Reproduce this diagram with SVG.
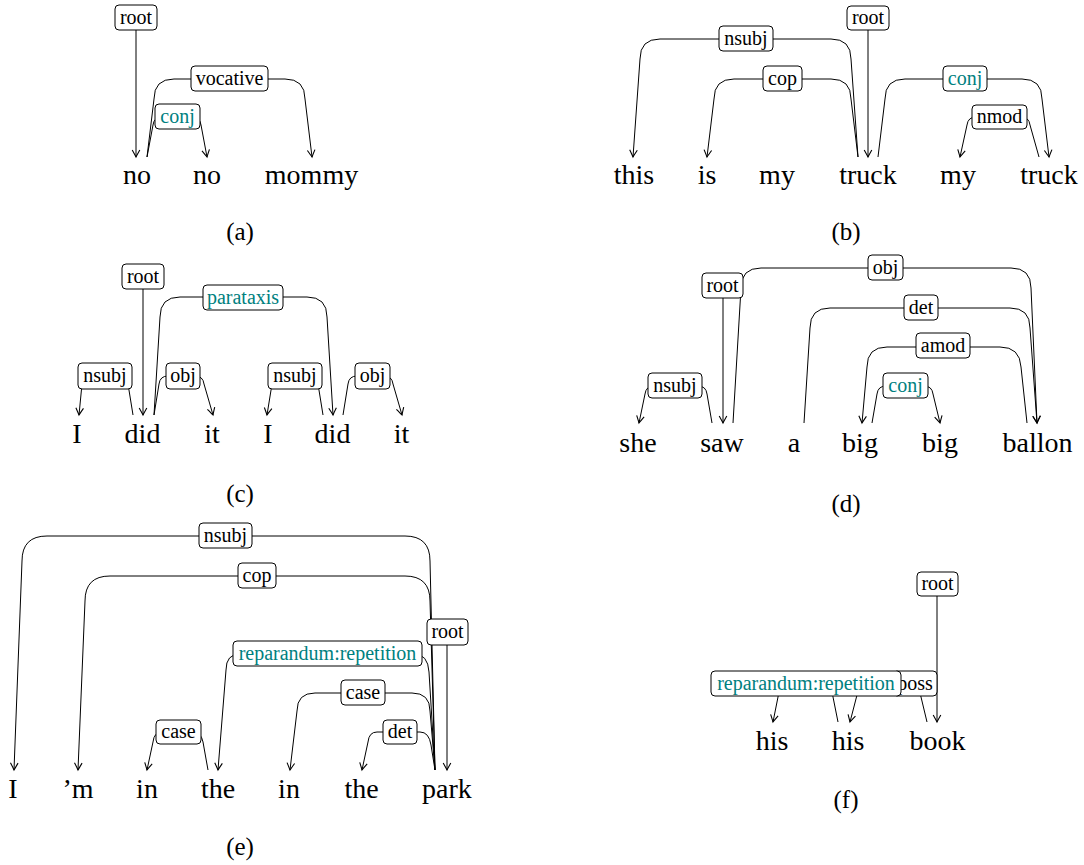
<svg xmlns="http://www.w3.org/2000/svg" width="1084" height="865" viewBox="0 0 1084 865" font-family="Liberation Serif, Times New Roman, serif">
<style>
  .w { font-size: 28px; fill: #000; text-anchor: middle; }
  .cap { font-size: 25px; fill: #000; text-anchor: middle; }
  .lb { font-size: 20px; fill: #000; text-anchor: middle; }
  .t { fill: #008080; }
  .box { fill: #fff; stroke: #000; stroke-width: 1; }
  .e { fill: none; stroke: #000; stroke-width: 1; marker-end: url(#arr); }
</style>
<defs>
  <marker id="arr" markerUnits="userSpaceOnUse" markerWidth="14" markerHeight="14" viewBox="-10 -7 14 14" refX="0" refY="0" orient="auto" overflow="visible">
    <path d="M-7,-3.8 Q-2,-1 0,0 Q-2,1 -7,3.8" fill="none" stroke="#000" stroke-width="1.1"/>
  </marker>
</defs>
<rect width="1084" height="865" fill="#fff"/>

<g id="connectors">
  <!-- (a) -->
  <path class="e" d="M136,30 L136,157"/>
  <path class="e" d="M147,157 L154,99 Q154,79 174,79 L285,79 Q305,79 305,99 L312,157"/>
  <path class="e" d="M147,157 L153,125 Q154,117 162,117 L192,117 Q200,117 201,125 L207,157"/>
  <!-- (b) -->
  <path class="e" d="M868,30 L868,157"/>
  <path class="e" d="M858,157 L851,59 Q851,39 831,39 L660,39 Q640,39 640,59 L633,157"/>
  <path class="e" d="M858,157 L851,99 Q851,79 831,79 L734,79 Q714,79 714,99 L707,157"/>
  <path class="e" d="M878,157 L885,99 Q885,79 905,79 L1022,79 Q1042,79 1042,99 L1049,157"/>
  <path class="e" d="M1039,157 L1030,125 Q1029,117 1021,117 L976,117 Q968,117 967,125 L960,157"/>
  <!-- (c) -->
  <path class="e" d="M143,289 L143,415"/>
  <path class="e" d="M154,415 L160,317 Q160,297 180,297 L307,297 Q327,297 327,317 L333,415"/>
  <path class="e" d="M133,415 L128,384 Q127,376 119,376 L91,376 Q83,376 82,384 L79,415"/>
  <path class="e" d="M154,415 L159,384 Q160,376 168,376 L195,376 Q203,376 204,384 L213,415"/>
  <path class="e" d="M323,415 L318,384 Q317,376 309,376 L281,376 Q273,376 272,384 L267,415"/>
  <path class="e" d="M343,415 L348,384 Q349,376 357,376 L384,376 Q392,376 393,384 L402,415"/>
  <!-- (d) -->
  <path class="e" d="M723,298 L723,423"/>
  <path class="e" d="M733,423 L741,288 Q741,268 761,268 L1011,268 Q1031,268 1031,288 L1037,423"/>
  <path class="e" d="M804,423 L810,328 Q810,308 830,308 L1010,308 Q1030,308 1030,328 L1037,423"/>
  <path class="e" d="M1027,423 L1021,367 Q1020,347 1000,347 L887,347 Q867,347 867,367 L862,423"/>
  <path class="e" d="M872,423 L877,394 Q878,386 886,386 L924,386 Q932,386 933,394 L940,423"/>
  <path class="e" d="M712,423 L707,394 Q706,386 698,386 L654,386 Q646,386 645,394 L639,423"/>
  <!-- (e) -->
  <path class="e" d="M447,645 L447,770"/>
  <path class="e" d="M435,770 L430,561 Q430,536 405,536 L47,536 Q22,536 22,561 L14,770"/>
  <path class="e" d="M435,770 L430,601 Q430,576 405,576 L110,576 Q85,576 85,601 L78,770"/>
  <path class="e" d="M435,770 L429,672 Q428,654 414,654 L240,654 Q226,654 226,670 L218,770"/>
  <path class="e" d="M435,770 L430,711 Q430,693 412,693 L315,693 Q297,693 297,711 L290,770"/>
  <path class="e" d="M435,770 L431,745 Q429,732 420,732 L377,732 Q369,732 368,742 L362,770"/>
  <path class="e" d="M208,770 L203,742 Q201,732 193,732 L162,732 Q154,732 153,742 L147,770"/>
  <!-- (f) -->
  <path class="e" d="M937,596 L937,722"/>
  <path class="e" d="M927,722 L921,697 Q919,683 911,683 L866,683 Q858,683 857,695 L850,722"/>
  <path class="e" d="M838,722 L833,697 Q832,683 824,683 L787,683 Q779,683 778,697 L773,722"/>
</g>

<!-- panel (a) -->
<g id="a-words">
  <text class="w" x="137" y="184">no</text>
  <text class="w" x="207" y="184">no</text>
  <text class="w" x="311.5" y="184">mommy</text>
  <text class="cap" x="240" y="240">(a)</text>
</g>
<g id="a-root"><rect class="box" x="115" y="5" width="42" height="25" rx="4"/><text class="lb" x="136" y="23.5">root</text></g>
<g id="a-vocative"><rect class="box" x="191" y="66" width="77" height="25" rx="4"/><text class="lb" x="229.5" y="84.5">vocative</text></g>
<g id="a-conj"><rect class="box" x="155" y="104" width="45" height="25" rx="4"/><text class="lb t" x="177.5" y="122.5">conj</text></g>

<!-- panel (b) -->
<g id="b-words">
  <text class="w" x="634" y="184">this</text>
  <text class="w" x="707" y="184">is</text>
  <text class="w" x="777" y="184">my</text>
  <text class="w" x="868" y="184">truck</text>
  <text class="w" x="958" y="184">my</text>
  <text class="w" x="1049" y="184">truck</text>
  <text class="cap" x="846" y="240">(b)</text>
</g>
<g id="b-root"><rect class="box" x="847" y="6" width="42" height="24" rx="4"/><text class="lb" x="868" y="24">root</text></g>
<g id="b-nsubj"><rect class="box" x="719" y="26" width="54" height="25" rx="4"/><text class="lb" x="746" y="44.5">nsubj</text></g>
<g id="b-cop"><rect class="box" x="763" y="66" width="39" height="25" rx="4"/><text class="lb" x="782.5" y="84.5">cop</text></g>
<g id="b-conj"><rect class="box" x="943" y="66" width="44" height="25" rx="4"/><text class="lb t" x="965" y="84.5">conj</text></g>
<g id="b-nmod"><rect class="box" x="972" y="105" width="55" height="24" rx="4"/><text class="lb" x="999.5" y="123">nmod</text></g>

<!-- panel (c) -->
<g id="c-words">
  <text class="w" x="77" y="443">I</text>
  <text class="w" x="142.5" y="443">did</text>
  <text class="w" x="212" y="443">it</text>
  <text class="w" x="268" y="443">I</text>
  <text class="w" x="332.5" y="443">did</text>
  <text class="w" x="401.5" y="443">it</text>
  <text class="cap" x="240" y="502">(c)</text>
</g>
<g id="c-root"><rect class="box" x="122" y="264" width="42" height="25" rx="4"/><text class="lb" x="143" y="282.5">root</text></g>
<g id="c-parataxis"><rect class="box" x="203" y="285" width="80" height="25" rx="4"/><text class="lb t" x="243" y="303.5">parataxis</text></g>
<g id="c-nsubj1"><rect class="box" x="78" y="363" width="54" height="26" rx="4"/><text class="lb" x="105" y="382">nsubj</text></g>
<g id="c-obj1"><rect class="box" x="166" y="363" width="34" height="26" rx="4"/><text class="lb" x="183" y="382">obj</text></g>
<g id="c-nsubj2"><rect class="box" x="268" y="363" width="54" height="26" rx="4"/><text class="lb" x="295" y="382">nsubj</text></g>
<g id="c-obj2"><rect class="box" x="355" y="363" width="35" height="26" rx="4"/><text class="lb" x="372.5" y="382">obj</text></g>

<!-- panel (d) -->
<g id="d-words">
  <text class="w" x="638" y="452">she</text>
  <text class="w" x="722" y="452">saw</text>
  <text class="w" x="794" y="452">a</text>
  <text class="w" x="860" y="452">big</text>
  <text class="w" x="940" y="452">big</text>
  <text class="w" x="1037.5" y="452">ballon</text>
  <text class="cap" x="846" y="512">(d)</text>
</g>
<g id="d-root"><rect class="box" x="702" y="273" width="41" height="25" rx="4"/><text class="lb" x="722.5" y="291.5">root</text></g>
<g id="d-obj"><rect class="box" x="868" y="255" width="35" height="25" rx="4"/><text class="lb" x="885.5" y="273.5">obj</text></g>
<g id="d-det"><rect class="box" x="904" y="295" width="34" height="25" rx="4"/><text class="lb" x="921" y="313.5">det</text></g>
<g id="d-amod"><rect class="box" x="916" y="333" width="54" height="25" rx="4"/><text class="lb" x="943" y="351.5">amod</text></g>
<g id="d-conj"><rect class="box" x="883" y="373" width="45" height="25" rx="4"/><text class="lb t" x="905.5" y="391.5">conj</text></g>
<g id="d-nsubj"><rect class="box" x="648" y="373" width="54" height="25" rx="4"/><text class="lb" x="675" y="391.5">nsubj</text></g>

<!-- panel (e) -->
<g id="e-words">
  <text class="w" x="13" y="798">I</text>
  <text class="w" x="78" y="798">’m</text>
  <text class="w" x="147" y="798">in</text>
  <text class="w" x="218" y="798">the</text>
  <text class="w" x="289" y="798">in</text>
  <text class="w" x="361.5" y="798">the</text>
  <text class="w" x="447" y="798">park</text>
  <text class="cap" x="240" y="855">(e)</text>
</g>
<g id="e-nsubj"><rect class="box" x="199" y="523" width="53" height="25" rx="4"/><text class="lb" x="225.5" y="541.5">nsubj</text></g>
<g id="e-cop"><rect class="box" x="238" y="563" width="38" height="25" rx="4"/><text class="lb" x="257" y="581.5">cop</text></g>
<g id="e-root"><rect class="box" x="427" y="619" width="41" height="26" rx="4"/><text class="lb" x="447.5" y="638">root</text></g>
<g id="e-reparandum"><rect class="box" x="233" y="641" width="189" height="25" rx="4"/><text class="lb t" x="327.5" y="659.5">reparandum:repetition</text></g>
<g id="e-case2"><rect class="box" x="341" y="680" width="44" height="25" rx="4"/><text class="lb" x="363" y="698.5">case</text></g>
<g id="e-det"><rect class="box" x="383" y="720" width="34" height="24" rx="4"/><text class="lb" x="400" y="738">det</text></g>
<g id="e-case1"><rect class="box" x="156" y="720" width="45" height="24" rx="4"/><text class="lb" x="178.5" y="738">case</text></g>

<!-- panel (f) -->
<g id="f-words">
  <text class="w" x="772" y="750">his</text>
  <text class="w" x="848" y="750">his</text>
  <text class="w" x="937.5" y="750">book</text>
  <text class="cap" x="846" y="808">(f)</text>
</g>
<g id="f-root"><rect class="box" x="917" y="572" width="41" height="24" rx="4"/><text class="lb" x="937.5" y="590">root</text></g>
<g id="f-poss"><rect class="box" x="893" y="671" width="44" height="25" rx="4"/><text class="lb" x="915" y="689.5">poss</text></g>
<g id="f-reparandum"><rect class="box" x="711" y="671" width="190" height="25" rx="4"/><text class="lb t" x="806" y="689.5">reparandum:repetition</text></g>
</svg>
